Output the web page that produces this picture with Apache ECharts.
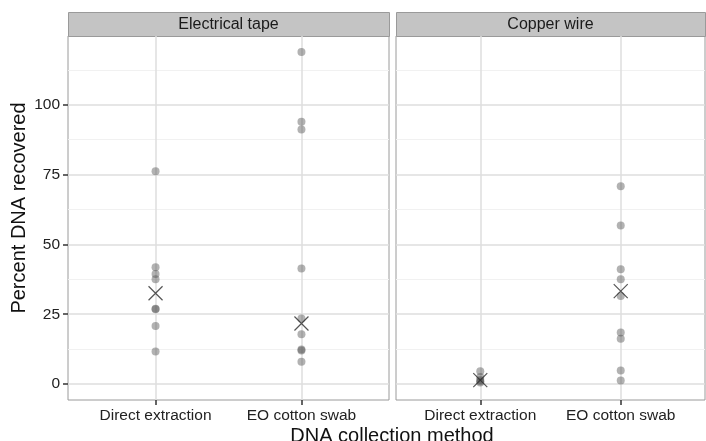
<!DOCTYPE html>
<html>
<head>
<meta charset="utf-8">
<script src="https://cdn.jsdelivr.net/npm/echarts@6/dist/echarts.min.js"></script>
<style>
html,body{margin:0;padding:0;background:#fff;}
#main{width:706px;height:441px;}
</style>
</head>
<body>
<div id="main"></div>
<script>
/*面板与类别*/
var panels = ['Electrical tape', 'Copper wire'];
var methods = ['Direct extraction', 'EO cotton swab'];
/*各面板各方法的观测值*/
var tapeDirect = [76.2, 41.8, 39.4, 37.5, 27.0, 26.8, 20.8, 11.7];
var tapeSwab = [118.9, 93.9, 91.1, 41.4, 23.5, 17.8, 12.4, 12.0, 8.0];
var wireDirect = [4.6, 2.5, 1.5, 1.0, 0.6];
var wireSwab = [70.8, 56.8, 41.1, 37.5, 31.5, 18.5, 16.2, 4.9, 1.3];
/*均值(X标记)*/
var tapeMeans = [32.5, 21.7];
var wireMeans = [1.4, 33.3];
/*刻度*/
var yTicks = [0, 25, 50, 75, 100];
var yMinor = [12.5, 37.5, 62.5, 87.5, 112.5];

var font = 'Liberation Sans, Arial, sans-serif';
var chart = echarts.init(document.getElementById('main'));

var grids = [
	{left: 68, top: 36, width: 321, height: 364},
	{left: 396, top: 36, width: 309, height: 364}
];

var xAxes = [], yAxes = [], series = [];
for (var g = 0; g < 2; g++) {
	xAxes.push({
		type: 'value', gridIndex: g, min: 0.4, max: 2.6,
		axisLine: {show: false, onZero: false},
		axisTick: {show: true, length: 5, customValues: [1, 2], lineStyle: {color: '#333', width: 1.5}},
		axisLabel: {customValues: [1, 2], color: '#222', fontSize: 15.5, fontFamily: font, margin: 8,
			formatter: function (v) { return methods[Math.round(v) - 1]; }},
		splitLine: {show: true, lineStyle: {color: '#dedede', width: 1.5}}
	});
	yAxes.push({
		type: 'value', gridIndex: g, min: -5.7, max: 124.6,
		axisLine: {show: false, onZero: false},
		axisTick: {show: g == 0, length: 5, customValues: yTicks, lineStyle: {color: '#333', width: 1.5}},
		axisLabel: {show: g == 0, customValues: yTicks, color: '#222', fontSize: 15.5, fontFamily: font, margin: 8},
		splitLine: {show: true, lineStyle: {color: '#dedede', width: 1.5}}
	});
	/*次网格线*/
	yAxes.push({
		type: 'value', gridIndex: g, min: -5.7, max: 124.6, position: 'right',
		axisLine: {show: false}, axisLabel: {show: false},
		axisTick: {show: false, customValues: yMinor},
		splitLine: {show: true, lineStyle: {color: '#f1f1f1', width: 1}}
	});
}

function pts(vals, x) {
	var out = [];
	for (var i = 0; i < vals.length; i++) out.push([x, vals[i]]);
	return out;
}
var groups = [[tapeDirect, tapeSwab, tapeMeans], [wireDirect, wireSwab, wireMeans]];
for (var p = 0; p < 2; p++) {
	series.push({
		type: 'scatter', xAxisIndex: p, yAxisIndex: p * 2,
		data: pts(groups[p][0], 1).concat(pts(groups[p][1], 2)),
		symbolSize: 8,
		itemStyle: {color: 'rgba(80,80,80,0.55)'},
		silent: true
	});
	series.push({
		type: 'scatter', xAxisIndex: p, yAxisIndex: p * 2,
		data: [[1, groups[p][2][0]], [2, groups[p][2][1]]],
		symbol: 'path://M0,0L10,10M10,0L0,10',
		symbolSize: 14,
		itemStyle: {color: 'rgba(0,0,0,0)', borderColor: '#2a2a2a', borderWidth: 1.2},
		silent: true, z: 5
	});
}

var graphics = [];
for (var s = 0; s < 2; s++) {
	graphics.push({
		type: 'rect', left: grids[s].left, top: 12,
		shape: {width: grids[s].width, height: 24},
		style: {fill: '#c4c4c4', stroke: '#9a9a9a', lineWidth: 1}
	});
	graphics.push({
		type: 'text', x: grids[s].left + grids[s].width / 2, y: 24.5,
		style: {text: panels[s], fill: '#1a1a1a', fontSize: 16, fontFamily: font, align: 'center', verticalAlign: 'middle'}
	});
}
graphics.push({
	type: 'text', x: 392, y: 436,
	style: {text: 'DNA collection method', fill: '#111', fontSize: 20, fontFamily: font, align: 'center', verticalAlign: 'middle'}
});
graphics.push({
	type: 'text', x: 19, y: 208, rotation: Math.PI / 2,
	style: {text: 'Percent DNA recovered', fill: '#111', fontSize: 20, fontFamily: font, align: 'center', verticalAlign: 'middle'}
});

chart.setOption({
	animation: false,
	backgroundColor: '#fff',
	grid: grids.map(function (gr) {
		return {left: gr.left, top: gr.top, width: gr.width, height: gr.height, show: true,
			borderColor: '#9a9a9a', borderWidth: 1, backgroundColor: '#fff', containLabel: false};
	}),
	xAxis: xAxes,
	yAxis: yAxes,
	series: series,
	graphic: graphics
});
</script>
</body>
</html>
